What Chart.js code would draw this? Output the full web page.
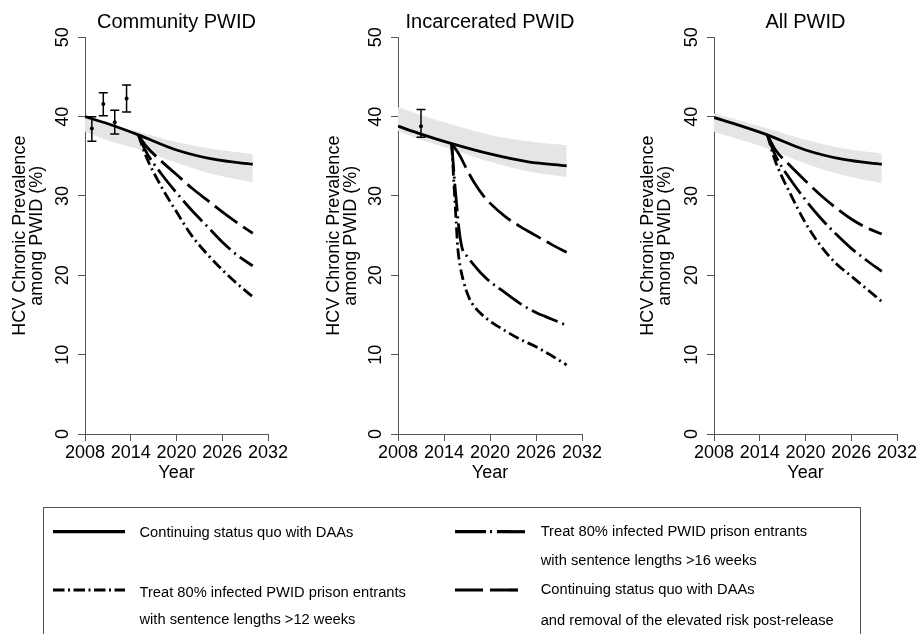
<!DOCTYPE html>
<html>
<head>
<meta charset="utf-8">
<script src="https://cdn.jsdelivr.net/npm/chart.js@4.4.0/dist/chart.umd.min.js"></script>
<style>
body{margin:0;width:918px;height:634px;overflow:hidden;background:#fff;position:relative;font-family:"Liberation Sans",Arial,Helvetica,sans-serif}
canvas{position:absolute;top:0}
#c1{left:0}
#c2{left:306px}
#c3{left:612px}
#leg{position:absolute;left:0;top:0}
</style>
</head>
<body>
<canvas id="c1" width="306" height="490"></canvas>
<canvas id="c2" width="306" height="490"></canvas>
<canvas id="c3" width="320" height="490"></canvas>
<svg id="leg" width="918" height="634">
  <rect x="43.5" y="507.5" width="817" height="140" fill="none" stroke="#555" stroke-width="1"/>
  <line x1="53" y1="531.7" x2="125" y2="531.7" stroke="#000" stroke-width="3.2"/>
  <line x1="53" y1="590" x2="125" y2="590" stroke="#000" stroke-width="3.2" stroke-dasharray="11.5 3.5 2 3.5"/>
  <line x1="455" y1="531.7" x2="525" y2="531.7" stroke="#000" stroke-width="3.2" stroke-dasharray="31 4 2 5"/>
  <line x1="455" y1="590" x2="522" y2="590" stroke="#000" stroke-width="3.2" stroke-dasharray="28 7"/>
  <g font-family="Liberation Sans, Arial, Helvetica, sans-serif" font-size="14.7" fill="#000">
    <text x="139.5" y="536.6">Continuing status quo with DAAs</text>
    <text x="139.5" y="596.5">Treat 80% infected PWID prison entrants</text>
    <text x="139.5" y="624.2">with sentence lengths &gt;12 weeks</text>
    <text x="540.7" y="536.4">Treat 80% infected PWID prison entrants</text>
    <text x="540.7" y="565">with sentence lengths &gt;16 weeks</text>
    <text x="540.7" y="594.4">Continuing status quo with DAAs</text>
    <text x="540.7" y="625.2">and removal of the elevated risk post-release</text>
  </g>
</svg>
<script>
const xTicks = [2008, 2014, 2020, 2026, 2032];
const yTicks = [0, 10, 20, 30, 40, 50];

// status quo with DAAs + uncertainty band
const quoYears = [2008, 2011, 2015, 2020, 2025, 2030];
const commQuo = [40.0, 39.1, 37.7, 35.8, 34.6, 34.0];
const commUpper = [39.8, 39.0, 38.1, 36.8, 35.9, 35.3];
const commLower = [38.1, 37.0, 35.9, 34.2, 32.7, 31.7];
const incQuo = [38.8, 37.8, 36.6, 35.3, 34.3, 33.8];
const incUpper = [41.2, 40.2, 39.0, 37.7, 36.9, 36.4];
const incLower = [38.2, 37.1, 35.9, 34.3, 33.1, 32.4];
const allQuo = [39.9, 39.0, 37.7, 35.8, 34.6, 34.0];
const allUpper = [40.4, 39.6, 38.5, 37.1, 36.0, 35.4];
const allLower = [38.1, 37.2, 36.0, 34.1, 32.6, 31.6];

// scenarios starting 2015
const scenYears = [2015, 2016, 2018, 2020, 2022, 2024, 2026, 2028, 2030];
const commRemoval = [37.7, 36.3, 34.4, 32.7, 31.0, 29.5, 28.0, 26.6, 25.3];
const comm16 = [37.7, 35.6, 32.8, 30.4, 28.2, 26.2, 24.2, 22.5, 21.2];
const comm12 = [37.7, 35.0, 31.2, 28.0, 25.0, 22.7, 20.7, 18.9, 17.3];
const allRemoval = [37.7, 35.9, 33.8, 31.9, 30.1, 28.5, 27.1, 26.0, 25.2];
const all16 = [37.7, 35.2, 32.1, 29.5, 27.2, 25.2, 23.4, 21.9, 20.5];
const all12 = [37.7, 34.5, 30.3, 26.6, 23.7, 21.5, 19.9, 18.3, 16.7];

const incRemovalYears = [2015, 2016, 2017, 2018, 2019, 2020, 2022, 2024, 2026, 2028, 2030];
const incRemoval = [36.6, 35.2, 33.3, 31.6, 30.2, 29.1, 27.4, 26.1, 25.0, 23.9, 22.9];
const inc16Years = [2015, 2015.5, 2016, 2016.4, 2017, 2018, 2019, 2020, 2022, 2024, 2026, 2028, 2030];
const inc16 = [36.6, 30.5, 25.5, 23.3, 22.4, 21.2, 20.1, 19.2, 17.8, 16.4, 15.3, 14.5, 13.7];
const inc12Years = [2015, 2015.3, 2015.6, 2015.8, 2016.1, 2016.5, 2017.3, 2018, 2019.5, 2022, 2024, 2026, 2028, 2030];
const inc12 = [36.6, 31.5, 26.5, 23.4, 21.2, 19.4, 17.1, 16.0, 14.6, 13.0, 11.9, 11.0, 9.9, 8.7];

// observed prevalence with 95% CI
const commObsYear = [2008.9, 2010.4, 2011.9, 2013.45];
const commObsMid = [38.5, 41.6, 39.3, 42.3];
const commObsLow = [36.9, 40.1, 37.8, 40.6];
const commObsHigh = [40.0, 43.0, 40.8, 44.0];
const incObsYear = [2011.0];
const incObsMid = [38.8];
const incObsLow = [37.4];
const incObsHigh = [40.9];

const F = "'Liberation Sans', Arial, Helvetica, sans-serif";
const AX = '#555';

function pts(xs, ys) {
    return xs.map((x, i) => ({x: x, y: ys[i]}));
}

function line(xs, ys, dash) {
    return {data: pts(xs, ys), borderColor: '#000', borderWidth: 2.8, borderDash: dash, pointRadius: 0,
        cubicInterpolationMode: 'monotone', fill: false, order: 1};
}

function band(xs, up, low) {
    return [
        {data: pts(xs, up), borderColor: 'rgba(0,0,0,0)', borderWidth: 0, pointRadius: 0, cubicInterpolationMode: 'monotone',
            fill: '+1', backgroundColor: '#e5e5e5', order: 5},
        {data: pts(xs, low), borderColor: 'rgba(0,0,0,0)', borderWidth: 0, pointRadius: 0, cubicInterpolationMode: 'monotone',
            fill: false, order: 5}
    ];
}

function errBars(xs, mids, lows, highs) {
    var out = [];
    for (var i = 0; i < xs.length; i++) {
        out.push({data: [{x: xs[i], y: lows[i]}, {x: xs[i], y: highs[i]}], borderColor: '#000', borderWidth: 1.5,
            pointStyle: 'line', pointRadius: 4.5, pointBorderWidth: 1.5, pointBorderColor: '#000', fill: false, order: 0});
    }
    out.push({data: pts(xs, mids), showLine: false, pointStyle: 'circle', pointRadius: 2,
        pointBackgroundColor: '#000', pointBorderWidth: 0, order: 0});
    return out;
}

const DASH_REMOVAL = [28, 7];
const DASH_16 = [28, 5, 2, 5];
const DASH_12 = [11, 4, 2, 4];

function options(title, yWidth, padRight, yTitlePad) {
    return {
        responsive: false,
        animation: false,
        layout: {padding: {left: 0, right: padRight, top: 0, bottom: 0}},
        plugins: {
            legend: {display: false},
            tooltip: {enabled: false},
            title: {display: true, text: title, fullSize: false, color: '#000',
                font: {family: F, size: 20, weight: 'normal', lineHeight: 1.2}, padding: {top: 10, bottom: 3.3}}
        },
        scales: {
            x: {
                type: 'linear', min: 2008, max: 2032,
                afterBuildTicks: s => { s.ticks = xTicks.map(v => ({value: v})); },
                ticks: {color: '#000', font: {family: F, size: 18}, padding: 1.5, maxRotation: 0, autoSkip: false,
                    callback: v => String(v)},
                grid: {display: true, drawOnChartArea: false, drawTicks: true, tickLength: 7, color: AX, lineWidth: 1},
                border: {display: true, color: AX, width: 1},
                title: {display: true, text: 'Year', color: '#000', font: {family: F, size: 18, lineHeight: 1},
                    padding: {top: 0, bottom: 7.6}},
                afterFit: s => { s.height = 56; }
            },
            y: {
                type: 'linear', min: 0, max: 50,
                afterBuildTicks: s => { s.ticks = yTicks.map(v => ({value: v})); },
                ticks: {color: '#000', font: {family: F, size: 18}, padding: 5, minRotation: 90, maxRotation: 90,
                    crossAlign: 'center', callback: v => String(v)},
                grid: {display: true, drawOnChartArea: false, drawTicks: true, tickLength: 7, color: AX, lineWidth: 1},
                border: {display: true, color: AX, width: 1},
                title: {display: true, text: ['HCV Chronic Prevalence', 'among PWID (%)'], color: '#000',
                    font: {family: F, size: 18, lineHeight: 0.93}, padding: {top: yTitlePad, bottom: 0}},
                afterFit: s => { s.width = yWidth; }
            }
        }
    };
}

new Chart(document.getElementById('c1'), {
    type: 'line',
    data: {datasets: [
        line(quoYears, commQuo, []),
        line(scenYears, commRemoval, DASH_REMOVAL),
        line(scenYears, comm16, DASH_16),
        line(scenYears, comm12, DASH_12)
    ].concat(errBars(commObsYear, commObsMid, commObsLow, commObsHigh), band(quoYears, commUpper, commLower))},
    options: options('Community PWID', 85, 38, 11.5)
});

new Chart(document.getElementById('c2'), {
    type: 'line',
    data: {datasets: [
        line(quoYears, incQuo, []),
        line(incRemovalYears, incRemoval, DASH_REMOVAL),
        line(inc16Years, inc16, DASH_16),
        line(inc12Years, inc12, DASH_12)
    ].concat(errBars(incObsYear, incObsMid, incObsLow, incObsHigh), band(quoYears, incUpper, incLower))},
    options: options('Incarcerated PWID', 92, 30, 19.5)
});

new Chart(document.getElementById('c3'), {
    type: 'line',
    data: {datasets: [
        line(quoYears, allQuo, []),
        line(scenYears, allRemoval, DASH_REMOVAL),
        line(scenYears, all16, DASH_16),
        line(scenYears, all12, DASH_12)
    ].concat(band(quoYears, allUpper, allLower))},
    options: options('All PWID', 102, 35, 28)
});
</script>
</body>
</html>
